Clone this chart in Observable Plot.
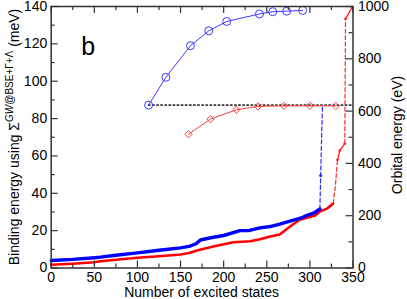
<!DOCTYPE html>
<html><head><meta charset="utf-8">
<script src="https://cdn.jsdelivr.net/npm/d3@7"></script>
<script src="https://cdn.jsdelivr.net/npm/@observablehq/plot@0.6"></script>
<style>body{margin:0;background:#fff} svg{display:block}</style>
</head><body><div id="chart"></div>
<script>
// Dense curves (binding energies, meV) vs number of excited states
const blueX = [0,25,50,57,75,100,125,150,160,168,173,185,200,219,230,242,254,265,277,290,296,305,311.6];
const blueY = [4.0,4.6,5.5,5.8,6.8,8.1,9.5,10.8,11.6,13,15,16.2,17.4,20,20.1,21.5,22.2,23.5,25.1,26.8,28.1,29.5,31.7];
const blueTailX = [311.6,312.5,314.5];
const blueTailY = [31.7,49.5,86];

const redX = [0,25,50,57,75,100,125,150,160,169,188,211,231,242,254,265,277,288,300,306,312,320,327];
const redY = [1.7,2.3,3.1,3.6,4.4,5.5,6.3,7.2,8,9.4,11.5,13.8,14.3,15.4,16.9,17.9,22.2,25.8,27.3,28.1,30.4,31.8,34.5];
const redTailDashX = [327,329.7,332,   340.5,341.3];
const redTailDashY = [34.5,44.5,57.9,  66.6,133.4];
const redTailDashSeg = [0,0,0,1,1];
const redTailSolidX = [332,334.7,340.5, 341.3,349];
const redTailSolidY = [57.9,62.9,66.6,  133.4,139.6];
const redTailSolidSeg = [0,0,0,1,1];

// Convergence series
const circX = [112.9,133,161.5,182.8,203.6,241.5,256.9,273,291.6];
const circY = [87.2,102.1,119,127,132,136,137.2,137.5,137.9];
const diamX = [159.2,184.7,214.7,239.8,270,300,330];
const diamY = [71.6,79.7,84.7,86.5,86.8,86.8,86.8];

// Reference level (dotted)
const refX = [112.9,350];
const refY = [87.2,87.2];

// Ticks
const xMajor = [0,50,100,150,200,250,300,350];
const xMinor = [25,75,125,175,225,275,325];
const yMajor = [0,20,40,60,80,100,120,140];
const yMinor = [10,30,50,70,90,110,130];
const rMajorEV = [0,200,400,600,800,1000];
const rMinorEV = [100,300,500,700,900];
const evPerMeV = 1000/140;

const W = 407, H = 299;
const mL = 50.7, mR = 54.5, mT = 6, mB = 31.5;
const fw = W - mL - mR, fh = H - mT - mB;
const ax = "#333";
const font = "Liberation Sans, Arial, Helvetica, sans-serif";

const pts = (xs, ys, extra) => xs.map((x,i) => ({x, y: ys[i], s: extra ? extra[i] : 0}));

const plot = Plot.plot({
  width: W, height: H,
  marginLeft: mL, marginRight: mR, marginTop: mT, marginBottom: mB,
  x: {domain: [0,350]},
  y: {domain: [0,140]},
  style: {fontFamily: font, fontSize: "14px", background: "#fff", color: "#000"},
  marks: [
    // dotted reference
    Plot.line(pts(refX, refY), {x:"x", y:"y", stroke:"#333", strokeWidth:1.6, strokeDasharray:"1.5,2.6"}),
    // dense curves
    Plot.line(pts(redX, redY), {x:"x", y:"y", stroke:"#ff0000", strokeWidth:2.6}),
    Plot.line(pts(blueX, blueY), {x:"x", y:"y", stroke:"#0000ff", strokeWidth:3.4}),
    Plot.line(pts(blueTailX, blueTailY), {x:"x", y:"y", stroke:"#2a2aff", strokeWidth:1.2, strokeDasharray:"4,2.5"}),
    Plot.dot(pts(blueTailX, blueTailY).slice(1,2), {x:"x", y:"y", r:1.6, fill:"#2a2aff"}),
    Plot.line(pts(redTailDashX, redTailDashY, redTailDashSeg), {x:"x", y:"y", z:"s", stroke:"#ff2a2a", strokeWidth:1.2, strokeDasharray:"4,2.5"}),
    Plot.line(pts(redTailSolidX, redTailSolidY, redTailSolidSeg), {x:"x", y:"y", z:"s", stroke:"#ff2a2a", strokeWidth:1.4}),
    Plot.dot(pts(redTailSolidX, redTailSolidY), {x:"x", y:"y", r:1.4, fill:"#ff2a2a"}),
    // convergence series
    Plot.line(pts(circX, circY), {x:"x", y:"y", stroke:"#3b3bff", strokeWidth:1}),
    Plot.dot(pts(circX, circY), {x:"x", y:"y", r:4, stroke:"#3b3bff", strokeWidth:1, fill:"none"}),
    Plot.line(pts(diamX, diamY), {x:"x", y:"y", stroke:"#ff4040", strokeWidth:1}),
    Plot.dot(pts(diamX, diamY), {x:"x", y:"y", r:3.3, symbol:"diamond2", stroke:"#ff4040", strokeWidth:1, fill:"none"}),
    // frame
    Plot.frame({stroke: ax, strokeWidth: 1.5}),
    // inward ticks
    Plot.tickX(xMajor, {x: d=>d, insetTop: fh-7, stroke: ax, strokeWidth: 1.2}),
    Plot.tickX(xMinor, {x: d=>d, insetTop: fh-4, stroke: ax, strokeWidth: 1.2}),
    Plot.tickX(xMajor, {x: d=>d, insetBottom: fh-7, stroke: ax, strokeWidth: 1.2}),
    Plot.tickX(xMinor, {x: d=>d, insetBottom: fh-4, stroke: ax, strokeWidth: 1.2}),
    Plot.tickY(yMajor, {y: d=>d, insetRight: fw-7, stroke: ax, strokeWidth: 1.2}),
    Plot.tickY(yMinor, {y: d=>d, insetRight: fw-4, stroke: ax, strokeWidth: 1.2}),
    Plot.tickY(rMajorEV, {y: d=>d/evPerMeV, insetLeft: fw-7, stroke: ax, strokeWidth: 1.2}),
    Plot.tickY(rMinorEV, {y: d=>d/evPerMeV, insetLeft: fw-4, stroke: ax, strokeWidth: 1.2}),
    // tick labels
    Plot.axisX({ticks: xMajor, tickSize: 0, tickPadding: 4, fontSize: 14, label: null}),
    Plot.axisY({ticks: yMajor, tickSize: 0, tickPadding: 4, fontSize: 14, label: null}),
    Plot.axisY({anchor: "right", ticks: rMajorEV.map(d=>d/evPerMeV), tickFormat: d => String(Math.round(d*evPerMeV)), tickSize: 0, tickPadding: 5, fontSize: 14, label: null}),
    // panel label
    Plot.text(["b"], {frameAnchor: "top-left", text: d=>d, dx: 30, dy: 31, lineAnchor: "top", textAnchor: "start", fontSize: 25})
  ]
});

const svg = d3.select(plot);
svg.append("text")
  .attr("x", mL + fw/2).attr("y", 297)
  .attr("text-anchor", "middle").attr("font-size", 14).attr("font-family", font)
  .text("Number of excited states");

const yl = svg.append("text")
  .attr("transform", "translate(18.5,137) rotate(-90)")
  .attr("text-anchor", "middle").attr("font-size", 14).attr("font-family", font);
yl.append("tspan").text("Binding energy using Σ");
yl.append("tspan").attr("dy", -6).attr("font-size", 10).attr("font-style", "italic").text("GW");
yl.append("tspan").attr("font-size", 10).text("@BSE+Γ+Λ");
yl.append("tspan").attr("dy", 6).text(" (meV)");

svg.append("text")
  .attr("transform", "translate(402,135) rotate(-90)")
  .attr("text-anchor", "middle").attr("font-size", 14).attr("font-family", font)
  .text("Orbital energy (eV)");

document.getElementById("chart").appendChild(plot);
</script>
</body></html>
